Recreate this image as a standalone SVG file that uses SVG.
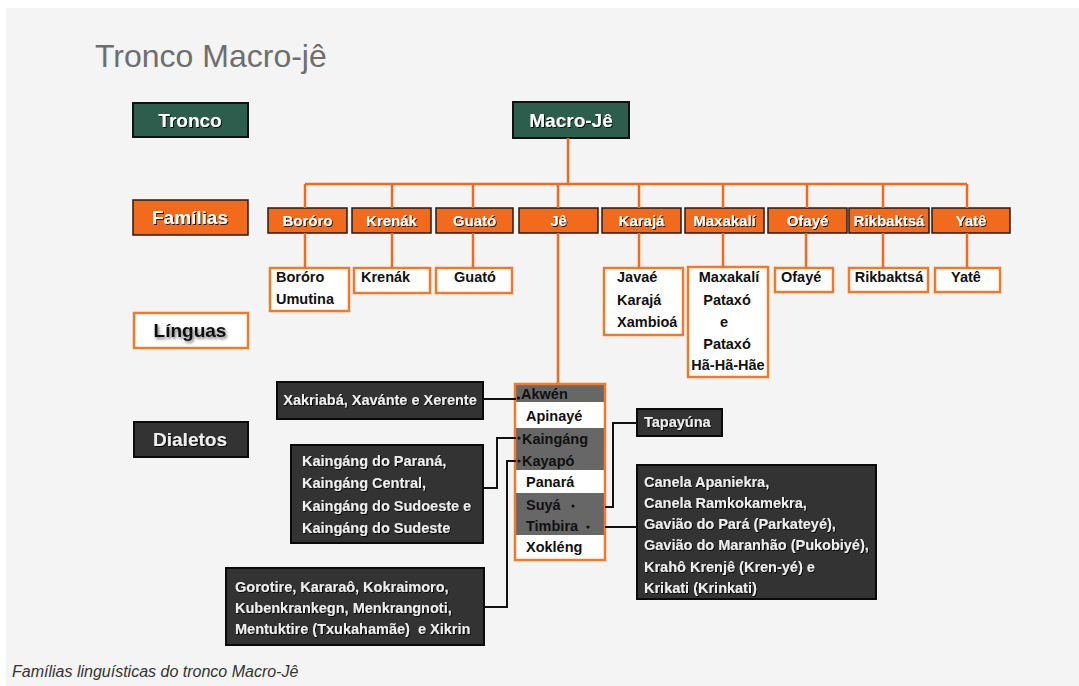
<svg xmlns="http://www.w3.org/2000/svg" width="1079" height="686" viewBox="0 0 1079 686">
<defs>
<filter id="ts" x="-10%" y="-30%" width="120%" height="160%"><feDropShadow dx="1" dy="1" stdDeviation="0.6" flood-color="#000" flood-opacity="0.85"/></filter>
<filter id="tsb" x="-10%" y="-30%" width="130%" height="180%"><feDropShadow dx="1.5" dy="2" stdDeviation="1.4" flood-color="#000" flood-opacity="0.55"/></filter>
</defs>
<style>
.lbl{font-family:"Liberation Sans",Arial,sans-serif;font-weight:bold;font-size:19px;text-anchor:middle}
.fam{font-family:"Liberation Sans",Arial,sans-serif;font-weight:bold;font-size:15px;fill:#fff;text-anchor:middle}
.t{font-family:"Liberation Sans",Arial,sans-serif;font-weight:bold;font-size:14.5px;fill:#111}
.d{font-family:"Liberation Sans",Arial,sans-serif;font-weight:bold;font-size:14.5px;fill:#eeeeee}
.green{fill:#2d5d4d;stroke:#111;stroke-width:2}
.orb{fill:#f26a1b;stroke:#2a1a10;stroke-width:1.5}
.wb{fill:#fff;stroke:#f07a2a;stroke-width:2.5}
.db{fill:#333;stroke:#0a0a0a;stroke-width:2}
.oc{stroke:#f26a1b;stroke-width:2.5;fill:none}
.bc{stroke:#111;stroke-width:2;fill:none}
</style>
<rect x="0" y="0" width="1079" height="686" fill="#fff"/>
<rect x="6" y="8" width="1073" height="678" fill="#f4f4f4"/>
<text x="95" y="67" font-family="'Liberation Sans',Arial,sans-serif" font-size="32" fill="#6e6e6e">Tronco Macro-jê</text>

<g id="label-tronco"><rect class="green" x="133" y="103" width="115" height="34"/><text class="lbl" x="190" y="127" fill="#fff" filter="url(#ts)">Tronco</text></g>
<g id="label-familias"><rect class="orb" x="133" y="200" width="115" height="35" stroke-width="2"/><text class="lbl" x="190" y="224" fill="#fff" filter="url(#ts)">Famílias</text></g>
<g id="label-linguas"><rect class="wb" x="134" y="313" width="114" height="35"/><text class="lbl" x="190" y="337" fill="#111" filter="url(#tsb)">Línguas</text></g>
<g id="label-dialetos"><rect class="db" x="134" y="422" width="114" height="35"/><text class="lbl" x="190" y="446" fill="#eee" filter="url(#ts)">Dialetos</text></g>

<g id="macro-je"><rect class="green" x="513" y="102" width="116" height="36"/><text class="lbl" x="571" y="127" fill="#fff" filter="url(#ts)">Macro-Jê</text></g>

<g id="fam-bororo"><rect class="orb" x="268" y="208" width="79" height="25"/><text class="fam" x="307.5" y="226" filter="url(#ts)">Boróro</text></g>
<g id="fam-krenak"><rect class="orb" x="352" y="208" width="79" height="25"/><text class="fam" x="391.5" y="226" filter="url(#ts)">Krenák</text></g>
<g id="fam-guato"><rect class="orb" x="436" y="208" width="77" height="25"/><text class="fam" x="474.5" y="226" filter="url(#ts)">Guató</text></g>
<g id="fam-je"><rect class="orb" x="519" y="208" width="79" height="25"/><text class="fam" x="558.5" y="226" filter="url(#ts)">Jê</text></g>
<g id="fam-karaja"><rect class="orb" x="602" y="208" width="79" height="25"/><text class="fam" x="641.5" y="226" filter="url(#ts)">Karajá</text></g>
<g id="fam-maxakali"><rect class="orb" x="685" y="208" width="79" height="25"/><text class="fam" x="724.5" y="226" filter="url(#ts)">Maxakalí</text></g>
<g id="fam-ofaye"><rect class="orb" x="768" y="208" width="79" height="25"/><text class="fam" x="807.5" y="226" filter="url(#ts)">Ofayé</text></g>
<g id="fam-rikbaktsa"><rect class="orb" x="849" y="208" width="80" height="25"/><text class="fam" x="889" y="226" filter="url(#ts)">Rikbaktsá</text></g>
<g id="fam-yate"><rect class="orb" x="932" y="208" width="78" height="25"/><text class="fam" x="971" y="226" filter="url(#ts)">Yatê</text></g>

<g id="lang-bororo"><rect class="wb" x="270" y="268" width="79" height="43"/><text class="t" x="276" y="282">Boróro</text><text class="t" x="276" y="304">Umutina</text></g>
<g id="lang-krenak"><rect class="wb" x="354" y="268" width="76" height="25"/><text class="t" x="361" y="282">Krenák</text></g>
<g id="lang-guato"><rect class="wb" x="436" y="268" width="76" height="25"/><text class="t" x="475" y="282" text-anchor="middle">Guató</text></g>
<g id="lang-karaja"><rect class="wb" x="604" y="268" width="79" height="67"/><text class="t" x="617" y="282">Javaé</text><text class="t" x="617" y="305">Karajá</text><text class="t" x="617" y="327">Xambioá</text></g>
<g id="lang-maxakali"><rect class="wb" x="688" y="267" width="80" height="110"/><g text-anchor="middle"><text class="t" x="729" y="282">Maxakalí</text><text class="t" x="727" y="305">Pataxó</text><text class="t" x="724" y="327">e</text><text class="t" x="727" y="349">Pataxó</text><text class="t" x="728" y="370">Hã-Hã-Hãe</text></g></g>
<g id="lang-ofaye"><rect class="wb" x="775" y="268" width="58" height="24"/><text class="t" x="781" y="282">Ofayé</text></g>
<g id="lang-rikbaktsa"><rect class="wb" x="849" y="268" width="79" height="24"/><text class="t" x="889" y="282" text-anchor="middle">Rikbaktsá</text></g>
<g id="lang-yate"><rect class="wb" x="935" y="268" width="65" height="24"/><text class="t" x="966" y="282" text-anchor="middle">Yatê</text></g>

<g id="je-list">
<rect x="515" y="384" width="90" height="176" fill="#fff"/>
<rect x="515" y="384" width="90" height="18" fill="#676767"/>
<rect x="515" y="428" width="90" height="42" fill="#676767"/>
<rect x="515" y="493" width="90" height="42" fill="#676767"/>
<rect x="515" y="384" width="90" height="176" fill="none" stroke="#f07a2a" stroke-width="2.5"/>
<text class="t" x="521" y="399">Akwén</text>
<text class="t" x="526" y="421">Apinayé</text>
<text class="t" x="522" y="444">Kaingáng</text>
<text class="t" x="522" y="466">Kayapó</text>
<text class="t" x="526" y="487">Panará</text>
<text class="t" x="526" y="510">Suyá</text>
<text class="t" x="526" y="531">Timbira</text>
<text class="t" x="526" y="552">Xokléng</text>
</g>

<g id="dial-akwen"><rect class="db" x="277" y="382" width="206" height="37"/><text class="d" x="380" y="405" text-anchor="middle" filter="url(#ts)">Xakriabá, Xavánte e Xerente</text></g>
<g id="dial-kaingang"><rect class="db" x="291" y="445" width="192" height="98"/><g filter="url(#ts)"><text class="d" x="302" y="466">Kaingáng do Paraná,</text><text class="d" x="302" y="488">Kaingáng Central,</text><text class="d" x="302" y="511">Kaingáng do Sudoeste e</text><text class="d" x="302" y="533">Kaingáng do Sudeste</text></g></g>
<g id="dial-kayapo"><rect class="db" x="226" y="568" width="258" height="77"/><g filter="url(#ts)"><text class="d" x="235" y="592">Gorotire, Kararaô, Kokraimoro,</text><text class="d" x="235" y="613">Kubenkrankegn, Menkrangnoti,</text><text class="d" x="235" y="634" xml:space="preserve">Mentuktire (Txukahamãe)  e Xikrin</text></g></g>
<g id="dial-suya"><rect class="db" x="637" y="409" width="85" height="27"/><text class="d" x="644" y="427" filter="url(#ts)">Tapayúna</text></g>
<g id="dial-timbira"><rect class="db" x="637" y="465" width="239" height="134"/><g filter="url(#ts)"><text class="d" x="644" y="487">Canela Apaniekra,</text><text class="d" x="644" y="508">Canela Ramkokamekra,</text><text class="d" x="644" y="529">Gavião do Pará (Parkateyé),</text><text class="d" x="644" y="550">Gavião do Maranhão (Pukobiyé),</text><text class="d" x="644" y="572">Krahô Krenjê (Kren-yé) e</text><text class="d" x="644" y="593">Krikati (Krinkati)</text></g></g>

<g id="connectors">
<path class="oc" d="M568 138V184M305 184H967M305 184V208M392 184V208M473 184V208M558 184V208M639 184V208M723 184V208M807 184V208M883 184V208M967 184V208"/>
<path class="oc" d="M305 233V268M392 233V268M473 233V268M639 233V268M723 233V267M806 233V268M883 233V268M967 233V268M558 233V383"/>
<path class="bc" d="M484 399H516M484 488H497V438H516M516 461H507V607H485M605 507H613V423H637M605 527H637"/>
<g fill="#111"><circle cx="518.5" cy="398" r="1.6"/><circle cx="519" cy="438" r="1.6"/><circle cx="519" cy="461" r="1.6"/><circle cx="573" cy="506" r="1.6"/><circle cx="588" cy="527" r="1.6"/></g>
</g>

<text x="12" y="677" font-family="'Liberation Sans',Arial,sans-serif" font-style="italic" font-size="16" fill="#333">Famílias linguísticas do tronco Macro-Jê</text>
</svg>
